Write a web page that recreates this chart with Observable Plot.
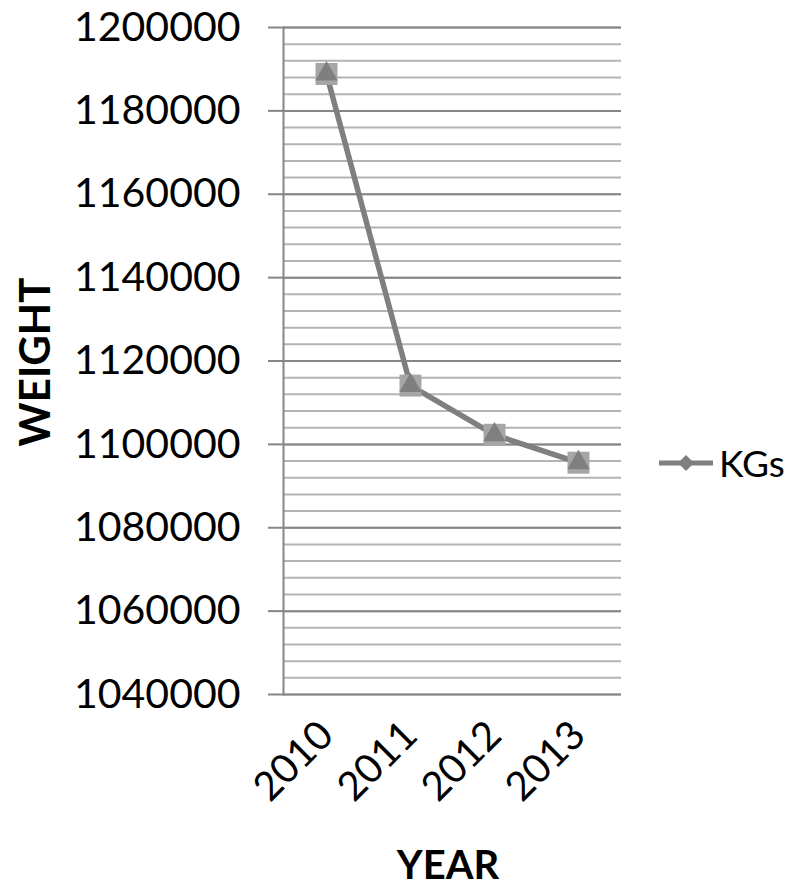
<!DOCTYPE html>
<html>
<head>
<meta charset="utf-8">
<script src="https://cdn.jsdelivr.net/npm/d3@7"></script>
<script src="https://cdn.jsdelivr.net/npm/@observablehq/plot@0.6"></script>
<style>
  html, body { margin: 0; padding: 0; background: #fff; }
  #wrap { position: relative; width: 793px; height: 892px; overflow: hidden; font-family: Lato, "Open Sans", sans-serif; }
  .ylab { position: absolute; left: 34px; top: 362px; transform: translate(-50%, -50%) rotate(-90deg); font-weight: bold; font-size: 42px; line-height: 1; color: #000; white-space: nowrap; }
  .xlab { position: absolute; left: 448px; top: 844px; transform: translateX(-50%); font-weight: bold; font-size: 40px; line-height: 1; color: #000; white-space: nowrap; }
  .legend { position: absolute; left: 657px; top: 440px; display: flex; align-items: center; font-size: 37px; color: #000; }
</style>
</head>
<body>
<div id="wrap"></div>
<script>
const years = ["2010", "2011", "2012", "2013"];
const weights = [1188850, 1114100, 1102300, 1095600];
const seriesName = "KGs";
const yDomain = [1040000, 1200000];
const majorStep = 20000;
const minorStep = 4000;

const data = years.map((y, i) => ({year: y, weight: weights[i]}));

const chart = Plot.plot({
  width: 793,
  height: 892,
  marginLeft: 283,
  marginRight: 172,
  marginTop: 27,
  marginBottom: 198,
  style: {fontFamily: "Lato, 'Open Sans', sans-serif", background: "transparent", color: "#000"},
  x: {type: "point", domain: years, padding: 0.5},
  y: {domain: yDomain},
  marks: [
    Plot.gridY({interval: minorStep, stroke: "#b3b3b3", strokeOpacity: 1, strokeWidth: 2}),
    Plot.gridY({interval: majorStep, stroke: "#868686", strokeOpacity: 1, strokeWidth: 2}),
    Plot.axisY({interval: majorStep, tickSize: 15, tickPadding: 28, fontSize: 41, stroke: "#868686", strokeWidth: 2, tickFormat: d3.format("d"), label: null, fill: "#000"}),
    Plot.frame({anchor: "left", stroke: "#868686", strokeWidth: 2}),
    Plot.axisX({tickSize: 0, tickRotate: -45, fontSize: 40, tickPadding: 34, label: null, fill: "#000"}),
    Plot.lineY(data, {x: "year", y: "weight", stroke: "#7f7f7f", strokeWidth: 5.5}),
    Plot.dot(data, {x: "year", y: "weight", symbol: "square", r: 12.4, fill: "#a6a6a6", stroke: "none"}),
    Plot.dot(data, {x: "year", y: "weight", symbol: "triangle", r: 8.3, fill: "#7f7f7f", stroke: "none"})
  ]
});

const wrap = document.getElementById("wrap");
wrap.appendChild(chart);

const yl = document.createElement("div");
yl.className = "ylab"; yl.textContent = "WEIGHT";
wrap.appendChild(yl);
const xl = document.createElement("div");
xl.className = "xlab"; xl.textContent = "YEAR";
wrap.appendChild(xl);

const lg = document.createElement("div");
lg.className = "legend";
lg.innerHTML = `<svg width="60" height="20" style="margin-right:2px"><line x1="2" y1="10" x2="56" y2="10" stroke="#7f7f7f" stroke-width="5"/><path d="M29 2 L37 10 L29 18 L21 10 Z" fill="#7f7f7f"/></svg><span>${seriesName}</span>`;
wrap.appendChild(lg);
</script>
</body>
</html>
